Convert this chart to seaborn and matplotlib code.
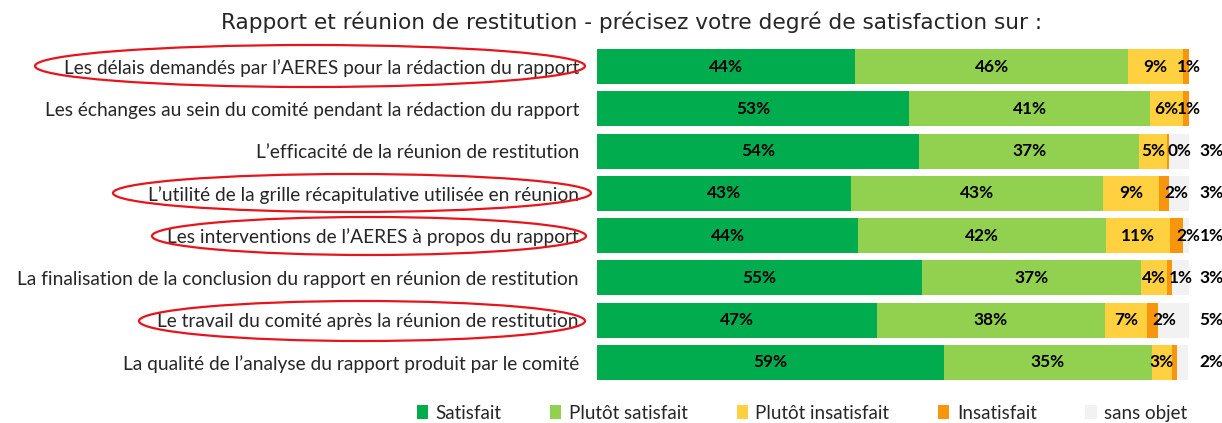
import numpy as np
import pandas as pd
import seaborn as sns
import matplotlib.pyplot as plt
from matplotlib.patches import Ellipse, Patch

# Data (percent of answers per question)
questions = [
    "Les délais demandés par l’AERES pour la rédaction du rapport",
    "Les échanges au sein du comité pendant la rédaction du rapport",
    "L’efficacité de la réunion de restitution",
    "L’utilité de la grille récapitulative utilisée en réunion",
    "Les interventions de l’AERES à propos du rapport",
    "La finalisation de la conclusion du rapport en réunion de restitution",
    "Le travail du comité après la réunion de restitution",
    "La qualité de l’analyse du rapport produit par le comité",
]
satisfait = [43.6, 52.7, 54.4, 42.9, 44.1, 54.9, 47.3, 58.6]
plutot_satisfait = [46.1, 40.7, 37.2, 42.6, 41.9, 37.0, 38.5, 35.1]
plutot_insatisfait = [9.3, 5.6, 4.7, 9.5, 10.8, 4.4, 7.1, 3.4]
insatisfait = [1.0, 1.0, 0.3, 1.7, 2.2, 0.8, 1.9, 0.8]
sans_objet = [0.0, 0.0, 3.4, 3.4, 1.0, 2.9, 5.2, 2.0]

# labels as printed on the bars
lbl_satisfait = ["44%", "53%", "54%", "43%", "44%", "55%", "47%", "59%"]
lbl_plutot_satisfait = ["46%", "41%", "37%", "43%", "42%", "37%", "38%", "35%"]
lbl_plutot_insatisfait = ["9%", "6%", "5%", "9%", "11%", "4%", "7%", "3%"]
lbl_insatisfait = ["1%", "1%", "0%", "2%", "2%", "1%", "2%", ""]
lbl_sans_objet = ["", "", "3%", "3%", "1%", "3%", "5%", "2%"]

series = ["Satisfait", "Plutôt satisfait", "Plutôt insatisfait", "Insatisfait", "sans objet"]
colors = ["#00AC4E", "#92D050", "#FFD040", "#F7960C", "#F2F2F2"]

df = pd.DataFrame({
    "question": questions,
    "Satisfait": satisfait,
    "Plutôt satisfait": plutot_satisfait,
    "Plutôt insatisfait": plutot_insatisfait,
    "Insatisfait": insatisfait,
    "sans objet": sans_objet,
})
cum = df[series].cumsum(axis=1)

sns.set_style("white")
plt.rcParams["font.family"] = ["Lato", "DejaVu Sans"]

W, H = 1222, 423
fig = plt.figure(figsize=(W / 100, H / 100), dpi=100)
ax = fig.add_axes([597 / W, 1 - 383.5 / H, 592 / W, (383.5 - 45.5) / H])

# stacked bars: draw cumulative totals from the longest down
for s, c in reversed(list(zip(series, colors))):
    sns.barplot(x=cum[s], y=df["question"], color=c, orient="h", saturation=1,
                width=0.83, linewidth=0, ax=ax)

ax.set_xlim(0, 100)
ax.set_ylim(7.5, -0.5)
ax.set_xlabel("")
ax.set_ylabel("")
ax.set_xticks([])
ax.tick_params(axis="y", length=0, pad=13, labelsize=13.8)
sns.despine(ax=ax, left=True, bottom=True)

# value labels (small ones pushed right like in the original)
kw = dict(ha="center", va="center", fontsize=12.4, fontweight="bold", color="black")
for i in range(len(questions)):
    start = 0
    segs = [satisfait[i], plutot_satisfait[i], plutot_insatisfait[i], insatisfait[i], sans_objet[i]]
    lbls = [lbl_satisfait[i], lbl_plutot_satisfait[i], lbl_plutot_insatisfait[i],
            lbl_insatisfait[i], lbl_sans_objet[i]]
    for k, (v, t) in enumerate(zip(segs, lbls)):
        mid = start + v / 2
        if k == 3:
            mid = min(mid + 2, 100.0)
        if k == 4:
            mid = 103.8
        if t:
            ax.text(mid, i, t, **kw)
        start += v

fig.text(632 / W, 1 - 22 / H,
         "Rapport et réunion de restitution - précisez votre degré de satisfaction sur :",
         ha="center", va="center", fontsize=15.6, family=["DejaVu Sans"])

# red ellipses around highlighted questions (pixel centre, size)
for cx, cy, ew, eh in [(310, 66, 550, 42), (352, 193, 478, 38),
                       (369, 236, 434, 38), (362, 321, 446, 40)]:
    fig.patches.append(Ellipse((cx / W, 1 - cy / H), ew / W, eh / H,
                               transform=fig.transFigure, fill=False,
                               edgecolor="#E8141B", linewidth=1.6))

handles = [Patch(facecolor=c, edgecolor="none", label=s) for s, c in zip(series, colors)]
fig.legend(handles=handles, loc="center", bbox_to_anchor=(802 / W, 1 - 413 / H),
           ncol=5, frameon=False, fontsize=13.5, handlelength=0.6, handleheight=0.8,
           handletextpad=0.4, columnspacing=2.6)

fig.savefig("out.png", dpi=100)
